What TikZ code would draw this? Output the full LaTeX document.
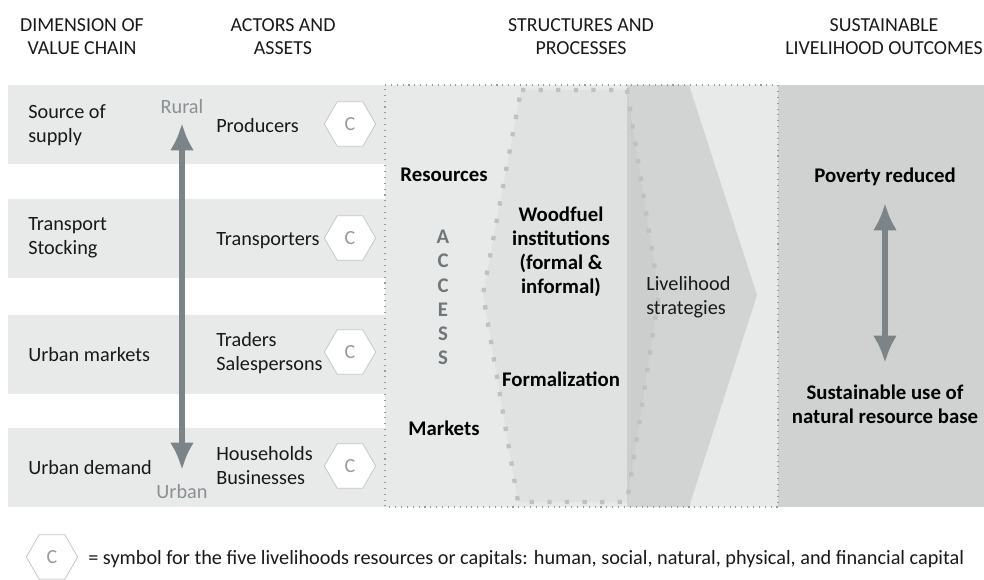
\documentclass[tikz,border=0pt]{standalone}
\usepackage{fontspec}
\setmainfont{Carlito}
\usetikzlibrary{shapes.geometric,arrows.meta}
\definecolor{bandgray}{HTML}{E8EAE9}
\definecolor{outgray}{HTML}{CFD2D1}
\definecolor{hexgray}{HTML}{E0E2E1}
\definecolor{strategygray}{HTML}{D2D4D3}
\definecolor{overlapgray}{HTML}{CCCECD}
\definecolor{dotgray}{HTML}{BFC1C1}
\definecolor{arrowgray}{HTML}{7D8488}
\definecolor{textgray}{HTML}{8A9094}
\definecolor{accessgray}{HTML}{6F777B}
\tikzset{
	txt/.style={font=\fontsize{15.2}{18}\selectfont,inner sep=0pt,align=left,text=black!90},
	head/.style={font=\fontsize{14.9}{17.4}\selectfont,inner sep=0pt,align=center,text=black!90},
	strong/.style={font=\fontsize{15.6}{18}\selectfont\bfseries,inner sep=0pt,align=center,text=black},
	capital/.style={draw=black!22,line width=.6pt,fill=white,regular polygon,regular polygon sides=6,minimum size=38.5pt,inner sep=0pt,text=black!40,font=\fontsize{15}{16}\selectfont},
	bigarrow/.style={draw=arrowgray,line width=5pt,{Latex[length=20.5pt,width=18pt]}-{Latex[length=20.5pt,width=18pt]}},
	fineline/.style={dotgray!80!black,line width=.8pt,dash pattern=on .8pt off 3.6pt},
}
\begin{document}
\begin{tikzpicture}[x=.75pt,y=-.75pt]
	\useasboundingbox (0,0) rectangle (984,580);
	\fill[bandgray] (8,85) rectangle (385,164);
	\fill[bandgray] (8,199) rectangle (385,278);
	\fill[bandgray] (8,315) rectangle (385,394);
	\fill[bandgray] (8,428) rectangle (385,507);
	\fill[bandgray] (385,85) rectangle (778,507);
	\fill[outgray] (778,85) rectangle (984,507);
	\fill[strategygray] (627,85) -- (689,85) -- (757,295) -- (689,507) -- (627,507) -- cycle;
	\fill[hexgray] (521,90) -- (627,90) -- (627,502) -- (518,502) -- (483,294) -- cycle;
	\fill[overlapgray] (627,90) -- (659,295) -- (627,502) -- cycle;
	\draw[dotgray,line width=3.2pt,dash pattern=on 3.2pt off 10pt] (521,90) -- (627,90) -- (659,295) -- (627,502) -- (518,502) -- (483,294) -- cycle;
	\draw[fineline] (385,85) -- (778,85) -- (778,507) -- (385,507) -- cycle;

	\node[head] at (82,37) {DIMENSION OF\\VALUE CHAIN};
	\node[head] at (283,37) {ACTORS AND\\ASSETS};
	\node[head] at (581,37) {STRUCTURES AND\\PROCESSES};
	\node[head] at (884,37) {SUSTAINABLE\\LIVELIHOOD OUTCOMES};

	\node[txt,anchor=west] at (28,125.5) {Source of\\supply};
	\node[txt,anchor=west] at (28,237.5) {Transport\\Stocking};
	\node[txt,anchor=west] at (28,355) {Urban markets};
	\node[txt,anchor=west] at (28,468) {Urban demand};

	\node[txt,anchor=west] at (216,126) {Producers};
	\node[txt,anchor=west] at (216,240.5) {Transporters};
	\node[txt,anchor=west] at (216,353) {Traders\\Salespersons};
	\node[txt,anchor=west] at (216,466) {Households\\Businesses};

	\foreach \row/\ypos in {prod/124,trans/238,trad/352,hous/466}
		\node[capital] (c-\row) at (350,\ypos) {C};

	\node[txt,text=textgray,align=center] (rural) at (182,107) {Rural};
	\node[txt,text=textgray,align=center] (urban) at (182,492) {Urban};
	\coordinate (ruralend) at (182,123);
	\coordinate (urbanend) at (182,470);
	\draw[bigarrow] (ruralend) -- (urbanend);

	\node[strong] (resources) at (444,175) {Resources};
	\node[strong] (markets) at (444,428) {Markets};
	\node[strong,text=accessgray,font=\fontsize{15.6}{18.2}\selectfont\bfseries] (access) at (443,297.5) {A\\C\\C\\E\\S\\S};
	\node[strong] (woodfuel) at (561,252) {Woodfuel\\institutions\\(formal \&\\informal)};
	\node[strong] (formal) at (561,379) {Formalization};
	\node[txt,anchor=west] (strategies) at (646,297) {Livelihood\\strategies};

	\node[strong] (poverty) at (885,177) {Poverty reduced};
	\node[strong] (natural) at (885,404) {Sustainable use of\\natural resource base};
	\coordinate (povertyend) at (885,203);
	\coordinate (naturalend) at (885,363);
	\draw[bigarrow] (povertyend) -- (naturalend);

	\node[capital] (c-key) at (52,557) {C};
	\node[txt,anchor=west] (key) at (88,559) {= symbol for the five livelihoods resources or capitals: human, social, natural, physical, and financial capital};
\end{tikzpicture}
\end{document}
